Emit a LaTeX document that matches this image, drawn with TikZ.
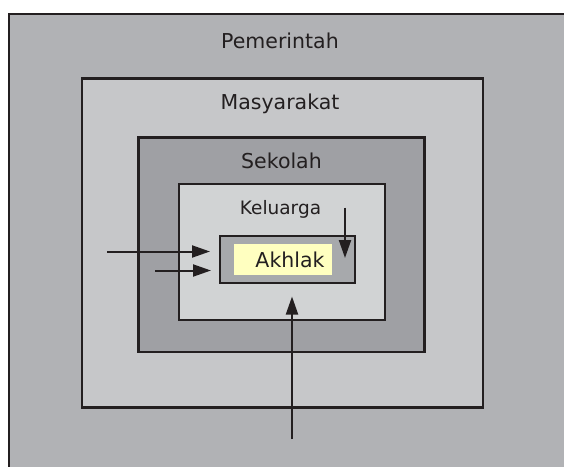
\documentclass[tikz,border=0pt]{standalone}
\usepackage{fontspec}
\setmainfont{DejaVu Sans}
\usetikzlibrary{arrows.meta}
\definecolor{ink}{HTML}{231F20}
\definecolor{gOuter}{HTML}{B1B2B5}
\definecolor{gMas}{HTML}{C6C7C9}
\definecolor{gSek}{HTML}{9FA0A4}
\definecolor{gKel}{HTML}{D1D3D4}
\definecolor{gAkh}{HTML}{A7A9AC}
\definecolor{yel}{HTML}{FFFFC0}
\tikzset{
  box/.style={draw=ink, line width=2.6pt, inner sep=0pt, outer sep=0pt, rectangle},
  lbl/.style={text=ink, inner sep=0pt, anchor=base, font=\fontsize{20.5}{24}\selectfont},
  arr/.style={draw=ink, line width=2pt, -{Triangle[length=18pt,width=12pt]}}
}
\begin{document}
\begin{tikzpicture}[x=1pt,y=-1pt]
\useasboundingbox (0,0) rectangle (564,466);
\clip (0,0) rectangle (564,466);
\fill[white] (0,0) rectangle (564,466);
\node[box, fill=gOuter, minimum width=566pt, minimum height=466pt] (pem) at (292,247) {};
\node[box, fill=gMas, minimum width=401pt, minimum height=328.5pt] (mas) at (282.5,243) {};
\node[box, fill=gSek, minimum width=286.5pt, minimum height=214.5pt] (sek) at (281.5,244.75) {};
\node[box, fill=gKel, minimum width=206pt, minimum height=136pt] (kel) at (282,252) {};
\node[box, fill=gAkh, minimum width=135pt, minimum height=47pt] (akh) at (287.5,259.5) {};
\node[fill=yel, inner sep=0pt, minimum width=98pt, minimum height=31pt] (yel) at (283,259.5) {};
\node[lbl] (tpem) at (280,48.7) {Pemerintah};
\node[lbl] (tmas) at (280,109.3) {Masyarakat};
\node[lbl] (tsek) at (281.5,168) {Sekolah};
\node[lbl, font=\fontsize{18.5}{22}\selectfont] (tkel) at (280.5,214) {Keluarga};
\node[lbl] (takh) at (290,267.3) {Akhlak};
\coordinate (a1s) at (107,251.5);
\coordinate (a1e) at (210,251.5);
\coordinate (a2s) at (155,270.5);
\coordinate (a2e) at (211,270.5);
\coordinate (a3s) at (345,207.5);
\coordinate (a3e) at (345,258);
\coordinate (a4s) at (292,439);
\coordinate (a4e) at (292,296.5);
\draw[arr] (a1s) -- (a1e);
\draw[arr] (a2s) -- (a2e);
\draw[arr] (a3s) -- (a3e);
\draw[arr] (a4s) -- (a4e);
\end{tikzpicture}
\end{document}
